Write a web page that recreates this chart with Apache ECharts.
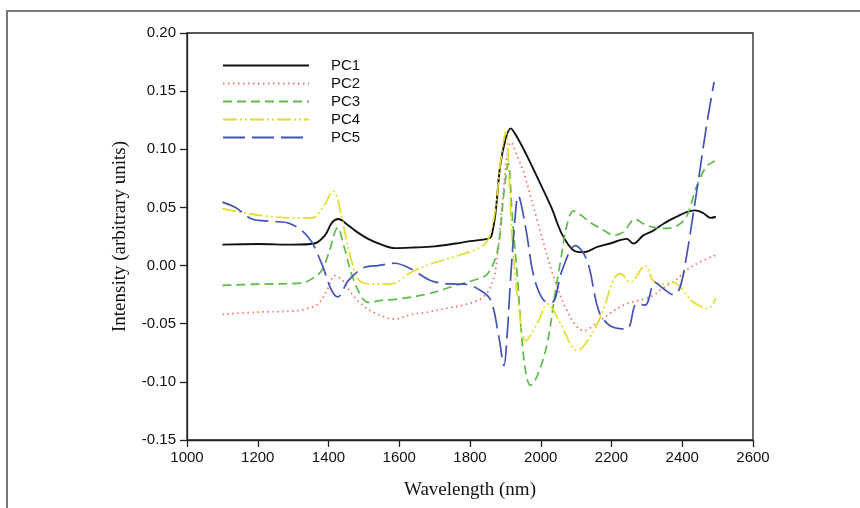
<!DOCTYPE html>
<html>
<head>
<meta charset="utf-8">
<script src="https://cdn.jsdelivr.net/npm/echarts@6/dist/echarts.min.js"></script>
<style>
  html, body { margin: 0; padding: 0; background: #fff; }
  #chart { width: 860px; height: 508px; }
</style>
</head>
<body>
<div id="chart"></div>
<script>
// wavelength (nm) / intensity pairs
var pc1X = [1100, 1200, 1300, 1360, 1390, 1410, 1428, 1450, 1480, 1512, 1550, 1587, 1640, 1700, 1760, 1800, 1850, 1860, 1872, 1885, 1900, 1915, 1930, 1960, 1990, 2030, 2060, 2093, 2121, 2160, 2196, 2243, 2262, 2290, 2318, 2347, 2384, 2412, 2436, 2460, 2480, 2495];
var pc1Y = [0.018, 0.0185, 0.018, 0.019, 0.026, 0.037, 0.040, 0.036, 0.029, 0.023, 0.018, 0.015, 0.0155, 0.0165, 0.019, 0.021, 0.023, 0.025, 0.045, 0.085, 0.108, 0.118, 0.112, 0.095, 0.076, 0.050, 0.027, 0.013, 0.0115, 0.016, 0.019, 0.023, 0.019, 0.026, 0.030, 0.036, 0.042, 0.046, 0.0475, 0.045, 0.041, 0.042];

var pc2X = [1100, 1200, 1306, 1350, 1371, 1395, 1418, 1440, 1465, 1500, 1540, 1587, 1634, 1680, 1728, 1780, 1821, 1850, 1872, 1890, 1905, 1915, 1935, 1953, 1990, 2037, 2084, 2121, 2168, 2234, 2309, 2347, 2384, 2412, 2450, 2495];
var pc2Y = [-0.042, -0.040, -0.039, -0.036, -0.033, -0.022, -0.0086, -0.013, -0.024, -0.035, -0.042, -0.046, -0.042, -0.040, -0.037, -0.034, -0.030, -0.023, -0.004, 0.050, 0.095, 0.106, 0.093, 0.079, 0.039, -0.010, -0.0446, -0.056, -0.047, -0.034, -0.027, -0.019, -0.012, -0.004, 0.003, 0.009];

var pc3X = [1100, 1200, 1324, 1360, 1381, 1400, 1426, 1445, 1465, 1490, 1512, 1550, 1596, 1681, 1750, 1821, 1850, 1878, 1895, 1908, 1920, 1934, 1953, 1971, 1990, 2018, 2040, 2056, 2075, 2093, 2115, 2140, 2180, 2206, 2234, 2267, 2290, 2318, 2356, 2384, 2412, 2440, 2468, 2492];
var pc3Y = [-0.017, -0.016, -0.015, -0.010, -0.004, 0.010, 0.0325, 0.015, -0.007, -0.025, -0.0316, -0.030, -0.0287, -0.0244, -0.018, -0.0115, -0.007, 0.013, 0.060, 0.088, 0.040, -0.010, -0.082, -0.103, -0.095, -0.0675, -0.025, 0.004, 0.036, 0.047, 0.043, 0.037, 0.030, 0.026, 0.029, 0.040, 0.036, 0.033, 0.032, 0.034, 0.042, 0.0675, 0.085, 0.090];

var pc4X = [1100, 1150, 1212, 1300, 1353, 1390, 1413, 1425, 1437, 1465, 1493, 1540, 1578, 1634, 1690, 1760, 1821, 1850, 1870, 1887, 1901, 1910, 1920, 1939, 1957, 1990, 2018, 2035, 2056, 2103, 2150, 2180, 2206, 2225, 2253, 2295, 2318, 2340, 2375, 2412, 2431, 2473, 2495];
var pc4Y = [0.049, 0.046, 0.043, 0.041, 0.041, 0.053, 0.064, 0.058, 0.042, 0.0043, -0.0144, -0.016, -0.0158, -0.0057, 0.0014, 0.008, 0.0144, 0.0216, 0.045, 0.0905, 0.115, 0.080, 0.019, -0.039, -0.0647, -0.050, -0.033, -0.038, -0.050, -0.073, -0.056, -0.035, -0.012, -0.007, -0.0144, 0.0, -0.013, -0.016, -0.0144, -0.025, -0.0316, -0.037, -0.028];

var pc5X = [1100, 1137, 1184, 1240, 1287, 1343, 1381, 1409, 1426, 1456, 1503, 1540, 1587, 1634, 1690, 1746, 1784, 1831, 1859, 1882, 1896, 1905, 1915, 1929, 1936, 1957, 1981, 2009, 2032, 2060, 2098, 2131, 2164, 2196, 2243, 2271, 2295, 2323, 2347, 2375, 2392, 2407, 2440, 2468, 2490];
var pc5Y = [0.0546, 0.050, 0.040, 0.038, 0.0365, 0.0244, 0.0014, -0.0216, -0.027, -0.013, -0.0014, 0.0, 0.002, -0.003, -0.013, -0.0158, -0.016, -0.0216, -0.030, -0.062, -0.086, -0.060, -0.010, 0.047, 0.060, 0.033, -0.010, -0.030, -0.0316, -0.0043, 0.0172, 0.0043, -0.039, -0.0517, -0.0546, -0.033, -0.034, -0.0144, -0.020, -0.025, -0.020, -0.001, 0.062, 0.119, 0.158];

var seriesNames = ['PC1', 'PC2', 'PC3', 'PC4', 'PC5'];

function pairs(xs, ys) {
    var out = [];
    for (var i = 0; i < xs.length; i++) {
        out.push([xs[i], ys[i]]);
    }
    return out;
}

function makeLine(name, xs, ys, color, width, dash) {
    return {
        name: name,
        type: 'line',
        data: pairs(xs, ys),
        symbol: 'none',
        smooth: 0.35,
        animation: false,
        lineStyle: { color: color, width: width, type: dash },
        itemStyle: { color: color }
    };
}

var chart = echarts.init(document.getElementById('chart'));

var option = {
    backgroundColor: '#fff',
    animation: false,
    graphic: [{
        // figure frame, only top and left edges visible
        type: 'polyline',
        shape: { points: [[7, 508], [7, 11], [860, 11]] },
        style: { stroke: '#777', lineWidth: 2, fill: null },
        silent: true
    }],
    grid: {
        left: 187, top: 33, right: 107, bottom: 68,
        show: true, borderColor: '#222', borderWidth: 1.3
    },
    legend: {
        left: 222, top: 58, padding: 0,
        orient: 'vertical',
        itemWidth: 86, itemHeight: 14, itemGap: 3,
        data: seriesNames,
        itemStyle: { opacity: 0, color: 'rgba(0,0,0,0)', borderWidth: 0 },
        textStyle: {
            fontFamily: 'Liberation Sans, Arial', fontSize: 15, lineHeight: 15, color: '#111',
            padding: [0, 0, 0, 17]
        }
    },
    xAxis: {
        type: 'value', min: 1000, max: 2600, interval: 200,
        name: 'Wavelength (nm)', nameLocation: 'middle', nameGap: 41,
        nameTextStyle: { fontFamily: 'Liberation Serif, Times New Roman', fontSize: 19, color: '#111' },
        axisLine: { show: true, onZero: false, lineStyle: { color: '#222', width: 1.3 } },
        axisTick: { show: true, inside: false, length: 7, lineStyle: { color: '#222', width: 1.3 } },
        axisLabel: {
            margin: 10, fontFamily: 'Liberation Sans, Arial', fontSize: 15, color: '#111',
            formatter: function (v) { return String(v); }
        },
        splitLine: { show: false }
    },
    yAxis: {
        type: 'value', min: -0.15, max: 0.20, interval: 0.05,
        name: 'Intensity (arbitrary units)', nameLocation: 'middle', nameGap: 57,
        nameTextStyle: { fontFamily: 'Liberation Serif, Times New Roman', fontSize: 19, color: '#111' },
        axisLine: { show: true, onZero: false, lineStyle: { color: '#222', width: 1.3 } },
        axisTick: { show: true, inside: false, length: 7, lineStyle: { color: '#222', width: 1.3 } },
        axisLabel: {
            margin: 11, fontFamily: 'Liberation Sans, Arial', fontSize: 15, color: '#111',
            formatter: function (v) { return v.toFixed(2); }
        },
        splitLine: { show: false }
    },
    series: [
        makeLine('PC1', pc1X, pc1Y, '#111111', 1.9, 'solid'),
        makeLine('PC2', pc2X, pc2Y, '#f2705a', 1.7, [1.5, 3.5]),
        makeLine('PC3', pc3X, pc3Y, '#5dbb4a', 1.7, [9, 5]),
        makeLine('PC4', pc4X, pc4Y, '#e3dc2a', 1.7, [14, 3, 2, 3, 2, 3]),
        makeLine('PC5', pc5X, pc5Y, '#4352b8', 1.7, [22, 7])
    ]
};

chart.setOption(option);
</script>
</body>
</html>
